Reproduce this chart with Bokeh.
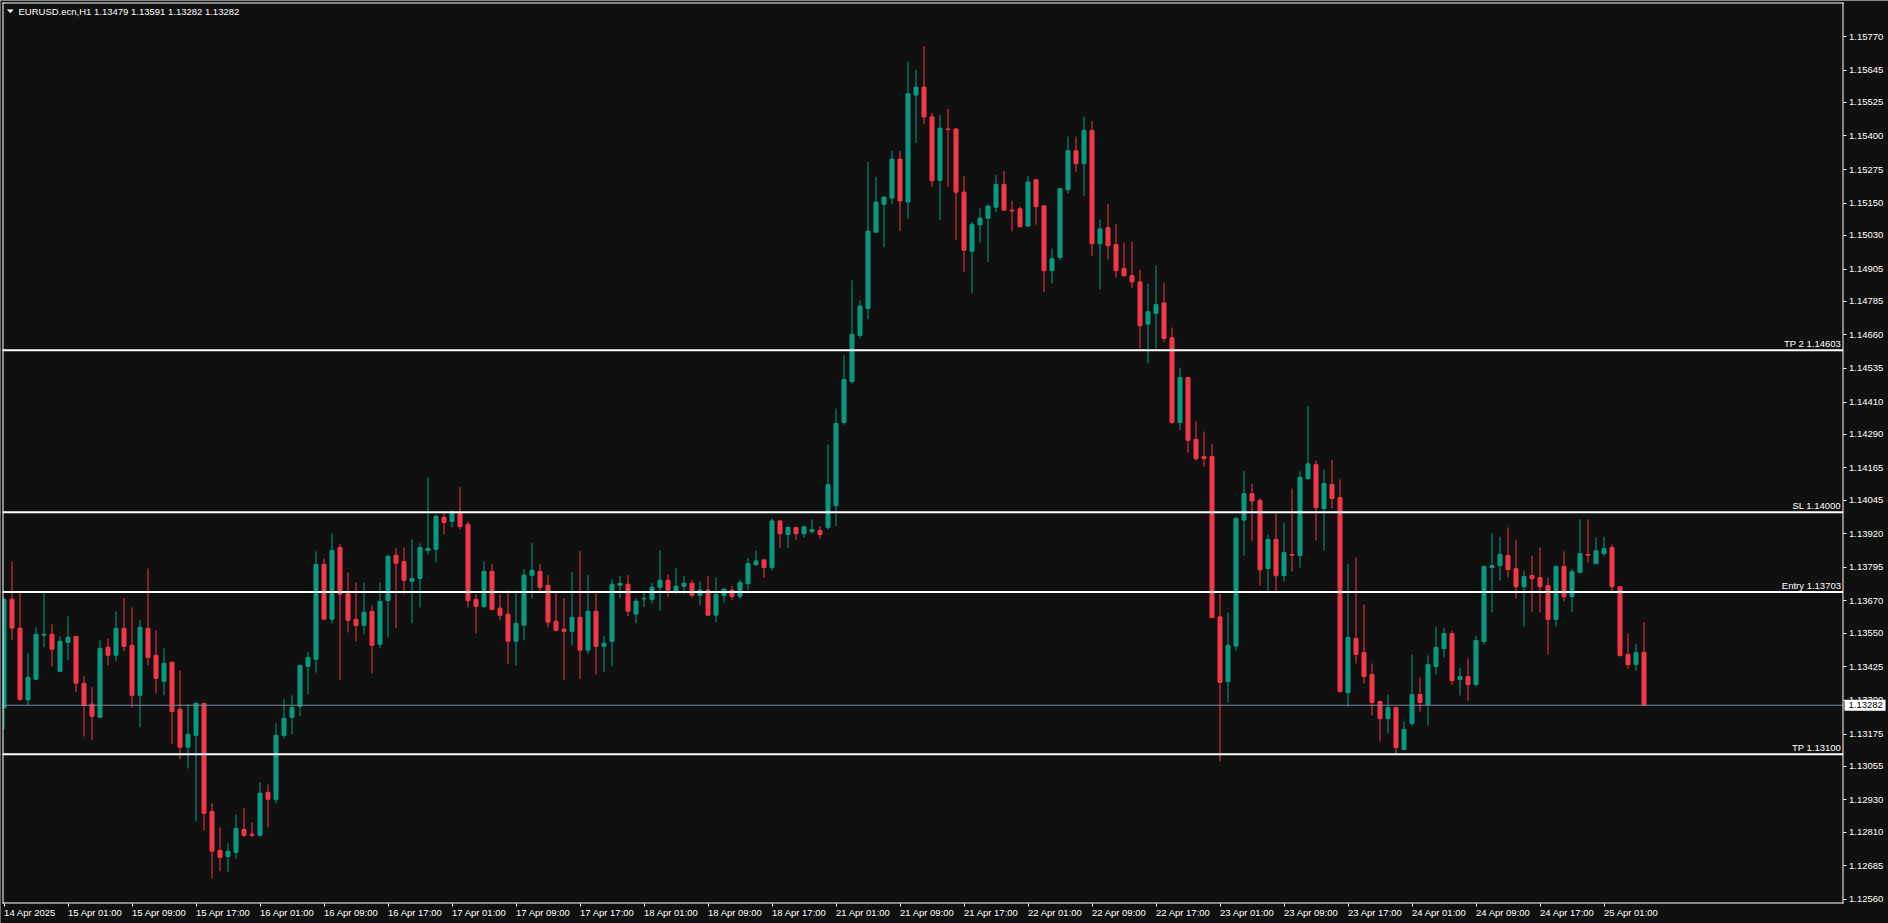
from bokeh.plotting import figure
from bokeh.models import Range1d, Label, FixedTicker, NumeralTickFormatter, BoxAnnotation
from bokeh.embed import file_html
from bokeh.resources import INLINE

symbol = "EURUSD.ecn,H1"

opens = [1.13272,1.13676,1.13569,1.13302,1.13379,1.13543,1.13546,1.13408,1.13516,1.13538,
1.13364,1.13286,1.13237,1.13498,1.13468,1.13568,1.13505,1.13319,1.13568,1.13468,
1.13371,1.13442,1.13267,1.13126,1.13170,1.13289,1.12887,1.12742,1.12720,1.12735,
1.12820,1.12802,1.12798,1.12958,1.12932,1.13170,1.13237,1.13278,1.13427,1.13453,
1.13806,1.13602,1.13869,1.13698,1.13602,1.13579,1.13631,1.13509,1.13672,1.13840,
1.13817,1.13743,1.13754,1.13858,1.13862,1.13981,1.13966,1.14000,1.13955,1.13676,
1.13650,1.13780,1.13643,1.13621,1.13520,1.13580,1.13766,1.13780,1.13728,1.13594,
1.13565,1.13557,1.13609,1.13487,1.13632,1.13501,1.13520,1.13728,1.13732,1.13621,
1.13678,1.13676,1.13721,1.13747,1.13706,1.13725,1.13736,1.13691,1.13710,1.13617,
1.13691,1.13710,1.13687,1.13734,1.13805,1.13823,1.13794,1.13968,1.13917,1.13943,
1.13920,1.13928,1.13932,1.13943,1.14025,1.14334,1.14486,1.14658,1.14758,1.15042,
1.15146,1.15169,1.15314,1.15154,1.15552,1.15582,1.15471,1.15235,1.15426,1.15426,
1.15191,1.14971,1.15069,1.15094,1.15135,1.15220,1.15124,1.15129,1.15065,1.15237,
1.15140,1.14899,1.14948,1.15200,1.15345,1.15297,1.15420,1.14999,1.15059,1.14996,
1.14907,1.14880,1.14857,1.14700,1.14740,1.14779,1.14649,1.14334,1.14501,1.14271,
1.14207,1.14207,1.13611,1.13370,1.13502,1.13971,1.14069,1.14044,1.13791,1.13899,
1.13764,1.13843,1.13839,1.14125,1.14177,1.14014,1.14103,1.14055,1.13329,1.13530,
1.13478,1.13396,1.13296,1.13232,1.13273,1.13117,1.13214,1.13322,1.13285,1.13426,
1.13493,1.13549,1.13378,1.13389,1.13359,1.13519,1.13794,1.13802,1.13839,1.13790,
1.13723,1.13764,1.13757,1.13727,1.13601,1.13798,1.13686,1.13776,1.13843,1.13809,
1.13846,1.13869,1.13723,1.13471,1.13433,1.13479]

highs = [1.13681,1.13817,1.13700,1.13475,1.13572,1.13700,1.13583,1.13538,1.13613,1.13538,
1.13390,1.13349,1.13524,1.13531,1.13631,1.13680,1.13646,1.13598,1.13791,1.13561,
1.13494,1.13445,1.13412,1.13286,1.13293,1.13289,1.12917,1.12828,1.12768,1.12876,
1.12899,1.12847,1.12996,1.12988,1.13215,1.13304,1.13319,1.13433,1.13479,1.13854,
1.13828,1.13921,1.13881,1.13776,1.13739,1.13739,1.13654,1.13739,1.13840,1.13866,
1.13869,1.13899,1.13884,1.14130,1.13992,1.14000,1.14007,1.14093,1.13966,1.13695,
1.13818,1.13807,1.13695,1.13710,1.13710,1.13788,1.13885,1.13807,1.13766,1.13699,
1.13680,1.13777,1.13855,1.13766,1.13699,1.13539,1.13751,1.13762,1.13766,1.13680,
1.13702,1.13736,1.13859,1.13769,1.13792,1.13762,1.13747,1.13743,1.13762,1.13758,
1.13717,1.13726,1.13749,1.13830,1.13857,1.13823,1.13977,1.13968,1.13949,1.13946,
1.13949,1.13973,1.13949,1.14252,1.14386,1.14584,1.14863,1.14788,1.15303,1.15248,
1.15173,1.15344,1.15344,1.15676,1.15646,1.15735,1.15486,1.15478,1.15501,1.15429,
1.15250,1.15080,1.15131,1.15146,1.15254,1.15269,1.15159,1.15137,1.15251,1.15237,
1.15140,1.14981,1.15204,1.15398,1.15398,1.15472,1.15456,1.15089,1.15148,1.15073,
1.15003,1.15007,1.14902,1.14851,1.14918,1.14854,1.14687,1.14538,1.14501,1.14338,
1.14300,1.14255,1.13696,1.13627,1.13982,1.14153,1.14107,1.14052,1.13917,1.13998,
1.13961,1.14088,1.14152,1.14396,1.14192,1.14159,1.14196,1.14122,1.13809,1.13831,
1.13657,1.13437,1.13299,1.13322,1.13277,1.13221,1.13471,1.13385,1.13467,1.13575,
1.13571,1.13560,1.13422,1.13456,1.13541,1.13802,1.13924,1.13909,1.13943,1.13898,
1.13783,1.13839,1.13869,1.13757,1.13802,1.13854,1.13790,1.13973,1.13973,1.13906,
1.13909,1.13880,1.13723,1.13549,1.13511,1.13591]

lows = [1.13194,1.13525,1.13297,1.13281,1.13375,1.13498,1.13427,1.13408,1.13449,1.13330,
1.13166,1.13152,1.13237,1.13431,1.13445,1.13483,1.13274,1.13200,1.13431,1.13326,
1.13319,1.13137,1.13081,1.13047,1.12850,1.12817,1.12637,1.12664,1.12661,1.12709,
1.12791,1.12792,1.12798,1.12828,1.12917,1.13159,1.13174,1.13241,1.13323,1.13404,
1.13602,1.13587,1.13375,1.13553,1.13520,1.13546,1.13401,1.13494,1.13535,1.13568,
1.13695,1.13587,1.13646,1.13843,1.13814,1.13918,1.13944,1.13936,1.13646,1.13549,
1.13643,1.13635,1.13598,1.13435,1.13431,1.13524,1.13680,1.13706,1.13572,1.13557,
1.13375,1.13505,1.13379,1.13472,1.13397,1.13405,1.13427,1.13680,1.13613,1.13587,
1.13647,1.13661,1.13632,1.13684,1.13695,1.13695,1.13684,1.13654,1.13617,1.13591,
1.13665,1.13673,1.13678,1.13712,1.13800,1.13756,1.13783,1.13868,1.13868,1.13898,
1.13905,1.13920,1.13902,1.13935,1.13949,1.14326,1.14479,1.14647,1.14718,1.15042,
1.14986,1.15146,1.15046,1.15090,1.15374,1.15445,1.15210,1.15088,1.15210,1.15012,
1.14893,1.14815,1.15001,1.14931,1.15116,1.15124,1.15045,1.15062,1.15062,1.15070,
1.14818,1.14851,1.14937,1.15185,1.15267,1.15178,1.14954,1.14829,1.14941,1.14873,
1.14876,1.14835,1.14609,1.14554,1.14609,1.14633,1.14328,1.14306,1.14222,1.14191,
1.14169,1.13608,1.13073,1.13292,1.13486,1.13839,1.13894,1.13727,1.13704,1.13704,
1.13742,1.13780,1.13794,1.14122,1.13895,1.13857,1.14014,1.13329,1.13277,1.13437,
1.13363,1.13244,1.13147,1.13177,1.13102,1.13117,1.13206,1.13258,1.13206,1.13396,
1.13459,1.13359,1.13318,1.13299,1.13351,1.13508,1.13627,1.13746,1.13757,1.13679,
1.13575,1.13630,1.13627,1.13471,1.13575,1.13668,1.13630,1.13772,1.13813,1.13809,
1.13835,1.13705,1.13463,1.13418,1.13411,1.13282]

closes = [1.13676,1.13569,1.13304,1.13386,1.13546,1.13546,1.13490,1.13520,1.13535,1.13364,
1.13281,1.13241,1.13494,1.13468,1.13568,1.13501,1.13319,1.13572,1.13460,1.13382,
1.13438,1.13259,1.13126,1.13174,1.13289,1.12880,1.12739,1.12716,1.12739,1.12824,
1.12798,1.12798,1.12955,1.12932,1.13170,1.13233,1.13274,1.13430,1.13460,1.13806,
1.13602,1.13858,1.13695,1.13598,1.13579,1.13628,1.13505,1.13668,1.13836,1.13810,
1.13747,1.13754,1.13869,1.13866,1.13985,1.13962,1.14000,1.13947,1.13672,1.13650,
1.13780,1.13639,1.13617,1.13520,1.13587,1.13766,1.13784,1.13721,1.13591,1.13561,
1.13557,1.13609,1.13487,1.13632,1.13501,1.13513,1.13732,1.13736,1.13632,1.13669,
1.13680,1.13721,1.13747,1.13710,1.13725,1.13736,1.13691,1.13710,1.13617,1.13695,
1.13714,1.13687,1.13738,1.13809,1.13819,1.13794,1.13968,1.13920,1.13943,1.13920,
1.13946,1.13935,1.13917,1.14103,1.14330,1.14494,1.14662,1.14767,1.15046,1.15154,
1.15173,1.15314,1.15158,1.15557,1.15582,1.15471,1.15233,1.15429,1.15424,1.15191,
1.14975,1.15071,1.15094,1.15139,1.15220,1.15124,1.15121,1.15062,1.15229,1.15137,
1.14899,1.14943,1.15204,1.15345,1.15297,1.15420,1.14999,1.15054,1.14992,1.14899,
1.14880,1.14857,1.14694,1.14746,1.14773,1.14646,1.14334,1.14501,1.14268,1.14199,
1.14199,1.13608,1.13367,1.13505,1.13977,1.14069,1.14042,1.13786,1.13899,1.13764,
1.13850,1.13840,1.14130,1.14180,1.14017,1.14107,1.14051,1.13333,1.13534,1.13471,
1.13389,1.13292,1.13232,1.13273,1.13125,1.13192,1.13322,1.13292,1.13433,1.13497,
1.13549,1.13374,1.13389,1.13359,1.13523,1.13798,1.13802,1.13843,1.13787,1.13723,
1.13761,1.13753,1.13723,1.13601,1.13798,1.13686,1.13779,1.13846,1.13840,1.13857,
1.13865,1.13723,1.13467,1.13433,1.13478,1.13282]

time_labels = ["14 Apr 2025", "15 Apr 01:00", "15 Apr 09:00", "15 Apr 17:00",
               "16 Apr 01:00", "16 Apr 09:00", "16 Apr 17:00", "17 Apr 01:00",
               "17 Apr 09:00", "17 Apr 17:00", "18 Apr 01:00", "18 Apr 09:00",
               "18 Apr 17:00", "21 Apr 01:00", "21 Apr 09:00", "21 Apr 17:00",
               "22 Apr 01:00", "22 Apr 09:00", "22 Apr 17:00", "23 Apr 01:00",
               "23 Apr 09:00", "23 Apr 17:00", "24 Apr 01:00", "24 Apr 09:00",
               "24 Apr 17:00", "25 Apr 01:00"]
bars_per_label = 8

price_ticks = [1.12560, 1.12685, 1.12810, 1.12930, 1.13055, 1.13175, 1.13300,
               1.13425, 1.13550, 1.13670, 1.13795, 1.13920, 1.14045, 1.14165,
               1.14290, 1.14410, 1.14535, 1.14660, 1.14785, 1.14905, 1.15030,
               1.15150, 1.15275, 1.15400, 1.15525, 1.15645, 1.15770]

level_names = ["TP 2", "SL", "Entry", "TP"]
level_prices = [1.14603, 1.14000, 1.13703, 1.13100]

BG = "#101010"
BULL = "#089981"
BEAR = "#f23645"
FG = "#ffffff"
BID = "#778899"
FONT = "Liberation Sans"
FS = "9.5px"

W, H = 1888, 923          # canvas = frame; the scales are drawn at fixed locations inside
SX = 8.0                  # pixels per bar
x0 = -0.4375
x1 = x0 + W / SX
y0, y1 = 1.12470, 1.15904
SY = H / (y1 - y0)

def X(cx):   # canvas px -> bar coordinate
    return x0 + cx / SX

def Y(cy):   # canvas px -> price
    return y1 - cy / SY

axis_x = X(1842.5)        # price scale line
axis_y = Y(902.5)         # time scale line

n = len(opens)
idx = list(range(n))
colors = [BULL if c >= o else BEAR for o, c in zip(opens, closes)]
tops = [max(o, c) for o, c in zip(opens, closes)]
bots = [min(o, c) for o, c in zip(opens, closes)]

p = figure(width=W, height=H, x_range=Range1d(x0, x1), y_range=Range1d(y0, y1),
           output_backend="svg", toolbar_location=None, y_axis_location="right",
           background_fill_color=BG, border_fill_color=BG, outline_line_color=None,
           min_border_left=0, min_border_top=0, min_border_right=0, min_border_bottom=0)
p.grid.visible = False

# candles
p.segment(x0=idx, y0=lows, x1=idx, y1=highs, line_color=colors, line_width=1)
p.vbar(x=idx, width=0.5, top=tops, bottom=bots, fill_color=colors, line_color=colors, line_width=1)

# trade levels
p.segment(x0=[x0] * len(level_prices), y0=level_prices, x1=[axis_x] * len(level_prices),
          y1=level_prices, line_color=FG, line_width=2)
for name, lv in zip(level_names, level_prices):
    p.add_layout(Label(x=axis_x, y=lv, text=f"{name} {lv:.5f}", text_align="right",
                       text_baseline="bottom", x_offset=-2, y_offset=1,
                       text_color=FG, text_font=FONT, text_font_size=FS))

bid = closes[-1]
p.segment(x0=[x0], y0=[bid], x1=[axis_x], y1=[bid], line_color=BID, line_width=1)

# area outside the chart window, then the window frame
p.add_layout(BoxAnnotation(left=X(0), right=X(2), top=Y(0), bottom=Y(H), fill_color=BG,
                           fill_alpha=1.0, line_color=None, level="overlay"))
for l, r, t, b in [(X(2), X(3), Y(2), Y(903)), (X(2), X(1843), Y(2), Y(3)),
                   (X(1842), X(1843), Y(2), Y(903)), (X(2), X(1843), Y(902), Y(903))]:
    p.add_layout(BoxAnnotation(left=l, right=r, top=t, bottom=b, fill_color=FG,
                               fill_alpha=1.0, line_color=None, level="overlay"))

# time scale: tick marks are minor ticks at bar positions, labels start at the tick
major_pos = [i * bars_per_label + 3.4 for i in range(len(time_labels))]
major_pos[0] = 3.25
xa = p.xaxis[0]
xa.axis_label = None
xa.fixed_location = axis_y
xa.ticker = FixedTicker(ticks=major_pos,
                        minor_ticks=[i * bars_per_label for i in range(len(time_labels))])
xa.major_label_overrides = {pos: t for pos, t in zip(major_pos, time_labels)}
xa.major_tick_line_color = None
xa.major_tick_in = 0
xa.major_tick_out = 3
xa.minor_tick_in = 0
xa.minor_tick_out = 3
xa.minor_tick_line_color = FG
xa.major_label_standoff = 1
xa.axis_line_color = None
xa.major_label_text_color = FG
xa.major_label_text_font = FONT
xa.major_label_text_font_size = FS

# price scale
ya = p.yaxis[0]
ya.axis_label = None
ya.fixed_location = axis_x
ya.ticker = FixedTicker(ticks=price_ticks)
ya.formatter = NumeralTickFormatter(format="0.00000")
ya.minor_tick_line_color = None
ya.major_tick_in = 0
ya.major_tick_out = 3
ya.major_label_standoff = 3
ya.axis_line_color = None
ya.major_tick_line_color = FG
ya.major_label_text_color = FG
ya.major_label_text_font = FONT
ya.major_label_text_font_size = FS

# current price box on the price scale
bid_cy = (y1 - bid) * SY
p.add_layout(BoxAnnotation(left=X(1844), right=X(1885), top=Y(bid_cy - 5.5),
                           bottom=Y(bid_cy + 5.5), fill_color="#ffffff", fill_alpha=1.0,
                           line_color=None, level="overlay"))
p.add_layout(Label(x=axis_x, y=bid, text=f"{bid:.5f}", text_align="left", text_baseline="middle",
                   x_offset=5.5, text_color="#000000", text_font=FONT, text_font_size=FS,
                   level="overlay"))

# header: menu triangle and symbol / last bar OHLC
p.patch(x=[X(7), X(12.6), X(9.8)], y=[Y(9.2), Y(9.2), Y(12.4)], fill_color=FG, line_color=FG,
        line_width=0.5)
hdr = f"{symbol}  " + " ".join(f"{v:.5f}" for v in (opens[-1], highs[-1], lows[-1], closes[-1]))
p.add_layout(Label(x=x0, y=y1, text=hdr, text_align="left", text_baseline="top",
                   x_offset=18, y_offset=-5.5, text_color=FG, text_font=FONT, text_font_size=FS))

open("out.html", "w").write(file_html(p, INLINE))
